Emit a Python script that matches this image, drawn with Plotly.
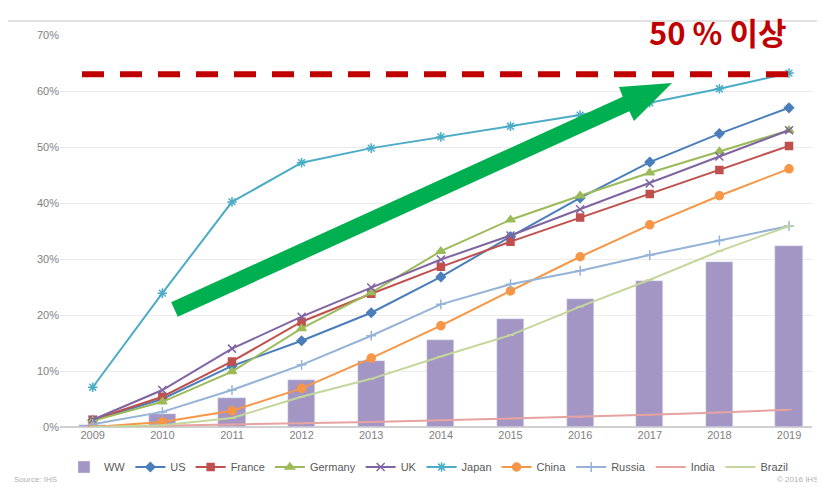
import plotly.graph_objects as go

years = [2009, 2010, 2011, 2012, 2013, 2014, 2015, 2016, 2017, 2018, 2019]
ww = [0.3, 2.3, 5.1, 8.4, 11.8, 15.5, 19.2, 22.8, 26.1, 29.4, 32.4]
us = [1.2, 5.0, 10.9, 15.4, 20.4, 26.8, 34.0, 40.9, 47.3, 52.4, 57.0]
france = [1.3, 5.4, 11.7, 18.8, 23.8, 28.6, 33.1, 37.4, 41.6, 45.9, 50.2]
germany = [1.1, 4.5, 9.9, 17.6, 24.0, 31.4, 37.0, 41.3, 45.4, 49.2, 53.0]
uk = [1.3, 6.6, 14.0, 19.7, 24.9, 29.9, 34.2, 38.9, 43.5, 48.3, 53.0]
japan = [7.1, 23.9, 40.2, 47.2, 49.8, 51.8, 53.7, 55.7, 57.9, 60.4, 63.2]
china = [0.0, 0.9, 2.9, 6.9, 12.3, 18.1, 24.3, 30.4, 36.1, 41.3, 46.1]
russia = [0.5, 2.7, 6.6, 11.1, 16.3, 21.9, 25.5, 27.9, 30.7, 33.3, 35.9]
india = [0.0, 0.2, 0.4, 0.6, 0.9, 1.2, 1.5, 1.8, 2.2, 2.6, 3.1]
brazil = [0.0, 0.3, 1.6, 5.4, 8.6, 12.6, 16.4, 21.5, 26.3, 31.4, 35.9]
threshold = 63.0
highlight_text = "50 % 이상"

OFF = 8  # page body margin
W, H = 825 - OFF, 492 - OFF
# plot area in page pixels: x 60..812, y 35..427
L = 60 - OFF
T = 35 - OFF
R = W - (812 - OFF)
B = H - (427 - OFF)
pw, ph = W - L - R, H - T - B

def px(x):
    return (x - OFF - L) / pw

def py(y):
    return (H - B - (y - OFF)) / ph

fig = go.Figure()
fig.add_trace(go.Bar(x=years, y=ww, name="WW", marker_color="#A396C4", width=0.39))

series = [
    ("US", us, "#4A7EBB", "diamond", 7),
    ("France", france, "#C0504D", "square", 7),
    ("Germany", germany, "#9BBB59", "triangle-up", 8),
    ("UK", uk, "#8064A2", "x-thin-open", 8),
    ("Japan", japan, "#4BACC6", "asterisk-open", 8),
    ("China", china, "#F79646", "circle", 8),
    ("Russia", russia, "#95B3D7", "cross-thin-open", 7),
    ("India", india, "#E6A3A1", "line-ew-open", 4),
    ("Brazil", brazil, "#C3D69B", "line-ew-open", 5),
]
for name, vals, col, sym, sz in series:
    fig.add_trace(go.Scatter(
        x=years, y=vals, name=name, mode="lines+markers",
        line=dict(color=col, width=2),
        marker=dict(symbol=sym, size=sz, color=col, line=dict(color=col, width=1.5)),
    ))

shapes = []
# frame
shapes.append(dict(type="line", xref="paper", yref="paper", x0=px(7), x1=px(7), y0=py(21), y1=py(492),
                   line=dict(color="#E2E2E2", width=2)))
shapes.append(dict(type="line", xref="paper", yref="paper", x0=px(7), x1=px(825), y0=py(21), y1=py(21),
                   line=dict(color="#E2E2E2", width=2)))
# red dashed threshold
shapes.append(dict(type="line", xref="paper", yref="y", x0=px(82), x1=px(792), y0=threshold, y1=threshold,
                   line=dict(color="#C00000", width=6, dash="22px,16px")))
# green arrow polygon
pts = [(171.2, 302.2), (622.7, 96.7), (619, 87), (672, 83), (634, 121), (629.3, 111.3), (177.8, 316.8)]
path = "M " + " L ".join(f"{px(x):.5f},{py(y):.5f}" for x, y in pts) + " Z"
shapes.append(dict(type="path", xref="paper", yref="paper", path=path,
                   fillcolor="#00B050", line=dict(color="#00B050", width=0)))

annotations = [
    dict(text=f"<b>{highlight_text}</b>", xref="paper", yref="paper", x=px(718), y=py(32),
         xanchor="center", yanchor="middle", showarrow=False, borderpad=0,
         font=dict(family="Noto Sans CJK KR, Liberation Sans", size=31, color="#C00000")),
    dict(text="Source: IHS", xref="paper", yref="paper", x=px(12), y=py(480),
         xanchor="left", yanchor="middle", showarrow=False,
         font=dict(family="Liberation Sans", size=8, color="#B0B0B0")),
    dict(text="© 2016 IHS", xref="paper", yref="paper", x=px(820), y=py(480),
         xanchor="right", yanchor="middle", showarrow=False,
         font=dict(family="Liberation Sans", size=8, color="#B0B0B0")),
]

fig.update_layout(
    width=W, height=H,
    margin=dict(l=L, r=R, t=T, b=B, autoexpand=False),
    paper_bgcolor="white", plot_bgcolor="white",
    font=dict(family="Liberation Sans", size=11, color="#7F7F7F"),
    bargap=0,
    showlegend=True,
    legend=dict(orientation="h", x=0.49, xanchor="center", y=py(467), yanchor="middle",
                font=dict(size=11, color="#595959"), itemwidth=30, tracegroupgap=0),
    shapes=shapes,
    annotations=annotations,
    xaxis=dict(range=[2008.53, 2019.33], tickvals=years, ticktext=[str(y) for y in years],
               showgrid=False, zeroline=False, showline=False, ticks="",
               tickfont=dict(size=11, color="#7F7F7F")),
    yaxis=dict(range=[0, 70], dtick=10, ticksuffix="%", showgrid=True, gridcolor="#EBEBEB",
               gridwidth=1, zeroline=True, zerolinecolor="#D0D0D0", showline=False, ticks="",
               tickfont=dict(size=11, color="#7F7F7F")),
)

fig.write_html("out.html")
